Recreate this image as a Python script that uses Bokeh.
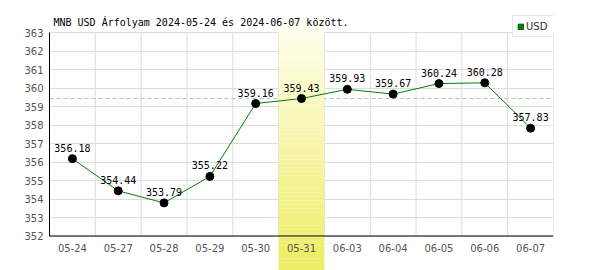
from bokeh.plotting import figure
from bokeh.models import FixedTicker, Span, Label, Legend, LegendItem, ColumnDataSource
from bokeh.core.properties import value
from bokeh.embed import file_html
from bokeh.resources import INLINE

# ---- data ----
dates = ["05-24", "05-27", "05-28", "05-29", "05-30", "05-31",
         "06-03", "06-04", "06-05", "06-06", "06-07"]
rates = [356.18, 354.44, 353.79, 355.22, 359.16, 359.43,
         359.93, 359.67, 360.24, 360.28, 357.83]
y_ticks = [352, 353, 354, 355, 356, 357, 358, 359, 360, 361, 362, 363]
highlight_index = 5
title_text = "MNB USD Árfolyam 2024-05-24 és 2024-06-07 között."
series_name = "USD"

# ---- layout geometry (pixels) ----
W, H = 600, 270
frame_left, frame_right = 49, 553
px_bottom_tick = 235.5      # pixel row of lowest tick
px_top_tick = 32.0          # pixel row of highest tick
px_highlight_top = 23.0
y_lo, y_hi = y_ticks[0], y_ticks[-1]
ppu = (px_bottom_tick - px_top_tick) / (y_hi - y_lo)
y_start = y_lo - (H - px_bottom_tick) / ppu
y_end = y_start + H / ppu
n = len(dates)
centers = [i + 0.5 for i in range(n)]

p = figure(width=W, height=H, x_range=(0, n), y_range=(y_start, y_end),
           output_backend="svg", toolbar_location=None, title=None,
           x_axis_location=None,
           min_border_left=frame_left, min_border_right=W - frame_right,
           min_border_top=0, min_border_bottom=0,
           outline_line_color=None, background_fill_color="white",
           border_fill_color="white")

# y axis
p.yaxis.ticker = FixedTicker(ticks=y_ticks)
p.yaxis.bounds = (y_lo, y_hi)
p.yaxis.axis_line_color = "black"
p.yaxis.axis_line_width = 1
p.yaxis.major_tick_in = 0
p.yaxis.major_tick_out = 0
p.yaxis.minor_tick_in = 0
p.yaxis.minor_tick_out = 0
p.yaxis.major_label_standoff = 6
p.yaxis.major_label_text_font = "DejaVu Sans"
p.yaxis.major_label_text_font_size = "10px"
p.yaxis.major_label_text_color = "#555555"

p.ygrid.ticker = FixedTicker(ticks=y_ticks)
p.ygrid.grid_line_color = "#dddddd"
p.xgrid.grid_line_color = None

# vertical grid lines at category boundaries
bounds = list(range(1, n + 1))
p.segment(x0=bounds, x1=bounds, y0=[y_lo] * len(bounds), y1=[y_hi] * len(bounds),
          line_color="#dddddd", line_width=1)

# dashed reference line at highlighted day's value
ref = rates[highlight_index]
p.segment(x0=[0], x1=[n], y0=[ref], y1=[ref], line_color="#a3cca3",
          line_width=1, line_dash="4 3")

# highlight column with vertical gradient
top_val = y_start + (H - px_highlight_top) / ppu
strips = 60
c_top = (255, 255, 240)
c_bot = (238, 236, 96)
hb, ht, hc = [], [], []
for k in range(strips):
    b = y_start + (top_val - y_start) * k / strips
    t = y_start + (top_val - y_start) * (k + 1) / strips
    f = (k + 0.5) / strips  # 0 bottom -> 1 top
    col = tuple(int(round(c_bot[j] + (c_top[j] - c_bot[j]) * f)) for j in range(3))
    hb.append(b)
    ht.append(t + 0.001)
    hc.append("#%02x%02x%02x" % col)
p.quad(left=[highlight_index] * strips, right=[highlight_index + 1] * strips,
       bottom=hb, top=ht, fill_color=hc, line_color=None)

# x axis line
p.add_layout(Span(location=y_lo, dimension="width", line_color="black", line_width=1))

# x labels
p.text(x=centers, y=[y_lo] * n, text=dates, y_offset=12,
       text_align="center", text_baseline="middle",
       text_font=value("DejaVu Sans"), text_font_size="10px", text_color="#555555")

# series
src = ColumnDataSource(dict(x=centers, y=rates, lab=["%.2f" % v for v in rates]))
p.line("x", "y", source=src, line_color="green", line_width=1)
p.scatter("x", "y", source=src, size=8, fill_color="black", line_color="black")
p.text("x", "y", text="lab", source=src, y_offset=-7,
       text_align="center", text_baseline="bottom",
       text_font=value("DejaVu Sans Mono"), text_font_size="10px", text_color="black")

# title
p.add_layout(Label(x=4, y=H - 22, x_units="screen", y_units="screen",
                   text=title_text, text_font="DejaVu Sans Mono",
                   text_font_size="10px", text_color="black",
                   text_baseline="alphabetic"))

# legend (swatch renderer: zero-area boxes, only the legend swatch is visible)
sq = p.quad(left="x", right="x", bottom="y", top="y", source=src,
            fill_color="green", line_color="#005500", line_width=1)
legend = Legend(items=[LegendItem(label=series_name, renderers=[sq])],
                location=(463, H - 37), orientation="vertical",
                padding=4, margin=0, spacing=0,
                glyph_width=7, glyph_height=7, label_standoff=2,
                label_width=25, label_height=12,
                label_text_font="DejaVu Sans", label_text_font_size="10px",
                label_text_color="#333333",
                border_line_color="#cccccc", background_fill_color="white",
                background_fill_alpha=1)
p.add_layout(legend)

open("out.html", "w").write(file_html(p, INLINE))
